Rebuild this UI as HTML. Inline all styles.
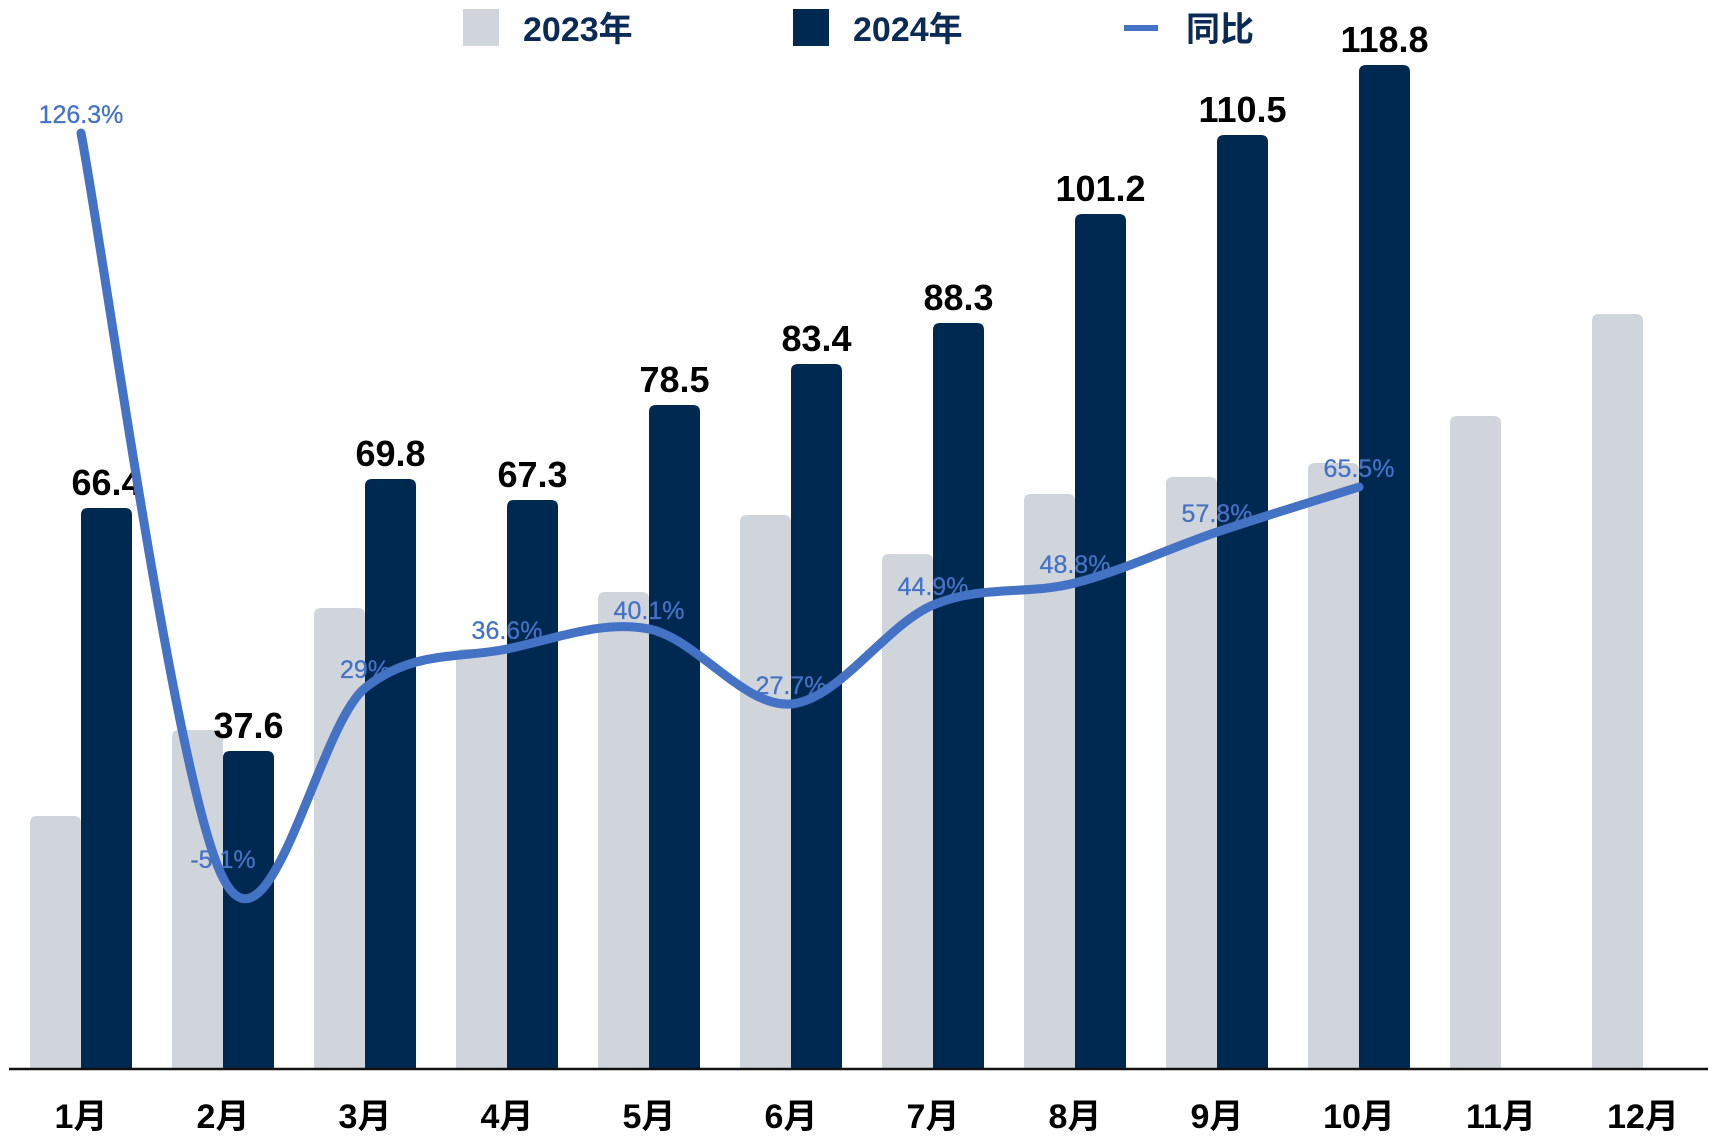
<!DOCTYPE html>
<html><head><meta charset="utf-8"><style>
html,body{margin:0;padding:0;background:#fff;}
svg{display:block;}
text{font-family:"Liberation Sans","Noto Sans CJK SC",sans-serif;}
</style></head><body>
<svg id="c" width="1732" height="1146" viewBox="0 0 1732 1146" xmlns="http://www.w3.org/2000/svg">
<g id="bars"></g>
<line x1="9" y1="1069" x2="1708" y2="1069" stroke="#111" stroke-width="2.5"/>
<g font-weight="bold" fill="#0b2a55" font-size="34">
<rect x="463" y="9" width="36" height="37" fill="#d0d5dc"/>
<text x="523" y="41">2023年</text>
<rect x="793" y="9" width="36" height="37" fill="#002952"/>
<text x="853" y="41">2024年</text>
<rect x="1124" y="25" width="34" height="6" fill="#4472c4"/>
<text x="1186" y="41">同比</text>
</g>
<path id="ln" fill="none" stroke="#4472c4" stroke-width="9" stroke-linecap="round" stroke-linejoin="round"/>
<g id="lbl"></g>
</svg>
<script>
var ns="http://www.w3.org/2000/svg";
var g=document.getElementById('bars'),lb=document.getElementById('lbl');
var gray=[816,730,608,649,592,515,554,494,477,463,416,314];
var navy=[66.4,37.6,69.8,67.3,78.5,83.4,88.3,101.2,110.5,118.8];
var pct=["126.3%","-5.1%","29%","36.6%","40.1%","27.7%","44.9%","48.8%","57.8%","65.5%"];
var py=[133,878,688,649,629,704,605,583,532,487];
function bar(x,ty,fill){var r=7,w=51,b=1068;var p=document.createElementNS(ns,'path');
p.setAttribute('d','M'+x+' '+b+'V'+(ty+r)+'Q'+x+' '+ty+' '+(x+r)+' '+ty+'H'+(x+w-r)+'Q'+(x+w)+' '+ty+' '+(x+w)+' '+(ty+r)+'V'+b+'Z');
p.setAttribute('fill',fill);g.appendChild(p);}
function txt(par,x,y,s,o){var t=document.createElementNS(ns,'text');t.setAttribute('x',x);t.setAttribute('y',y);t.setAttribute('text-anchor','middle');for(var k in o)t.setAttribute(k,o[k]);t.textContent=s;par.appendChild(t);}
for(var i=0;i<12;i++){var gx=30+142*i;bar(gx,gray[i],'#d0d5dc');
 if(i<10){var ty=Math.round(1068-navy[i]*8.44);bar(gx+51,ty,'#002952');
  txt(g,gx+76.5,ty-13,navy[i].toFixed(1),{'font-size':'36','font-weight':'bold','fill':'#000'});}
 txt(g,81+142*i,1128,(i+1)+'月',{'font-size':'34','font-weight':'bold','fill':'#000'});}
var pts=py.map(function(y,i){return [81+142*i,y];});
var d='M'+pts[0][0]+' '+pts[0][1];
for(var i=0;i<pts.length-1;i++){var p0=pts[Math.max(i-1,0)],p1=pts[i],p2=pts[i+1],p3=pts[Math.min(i+2,pts.length-1)];
 var c1=[p1[0]+(p2[0]-p0[0])/6,p1[1]+(p2[1]-p0[1])/6],c2=[p2[0]-(p3[0]-p1[0])/6,p2[1]-(p3[1]-p1[1])/6];
 d+='C'+c1[0]+' '+c1[1]+' '+c2[0]+' '+c2[1]+' '+p2[0]+' '+p2[1];}
document.getElementById('ln').setAttribute('d',d);
for(var i=0;i<10;i++){txt(lb,pts[i][0],pts[i][1]-10,pct[i],{'font-size':'25','fill':'#4472c4','stroke':'#4472c4','stroke-width':'0.3'});}
</script>
</body></html>
